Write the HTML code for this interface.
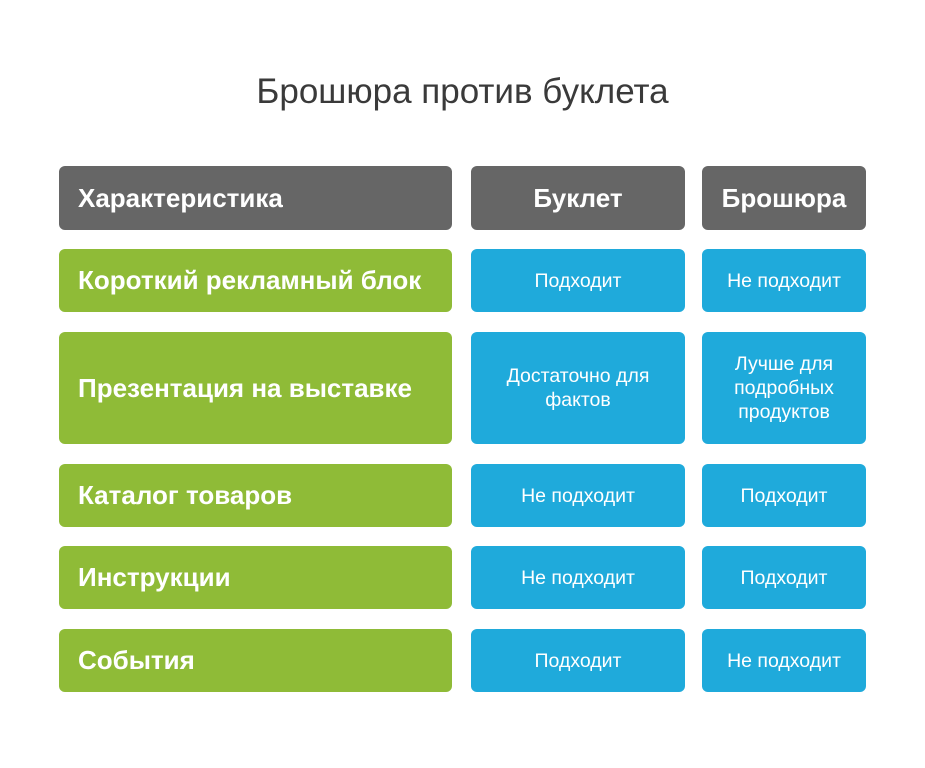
<!DOCTYPE html>
<html><head><meta charset="utf-8"><style>
body{margin:0;width:925px;height:768px;background:#fff;position:relative;overflow:hidden;font-family:"Liberation Sans","DejaVu Sans",sans-serif}
.t{position:absolute;left:0;width:925px;top:72px;text-align:center;font-size:35px;color:#3a3a3a}
.b{position:absolute;border-radius:6px;display:flex;align-items:center;color:#fff;box-sizing:border-box}
.g{background:#666}.gr{background:#8fbb37}.bl{background:#1faadb}
.c1{left:59px;width:393px;padding-left:19px;font-weight:bold;font-size:26px}
.c2{left:471px;width:214px;justify-content:center;text-align:center;font-size:19.5px;line-height:24px}
.c3{left:702px;width:164px;justify-content:center;text-align:center;font-size:19.5px;line-height:24px}
.h{font-weight:bold;font-size:26px}
</style></head><body>
<div class="t">Брошюра против буклета</div>
<div class="b g c1" style="top:166px;height:64px">Характеристика</div>
<div class="b g c2 h" style="top:166px;height:64px">Буклет</div>
<div class="b g c3 h" style="top:166px;height:64px">Брошюра</div>

<div class="b gr c1" style="top:249px;height:63px">Короткий рекламный блок</div>
<div class="b bl c2" style="top:249px;height:63px">Подходит</div>
<div class="b bl c3" style="top:249px;height:63px">Не подходит</div>

<div class="b gr c1" style="top:332px;height:112px">Презентация на выставке</div>
<div class="b bl c2" style="top:332px;height:112px">Достаточно для<br>фактов</div>
<div class="b bl c3" style="top:332px;height:112px">Лучше для<br>подробных<br>продуктов</div>

<div class="b gr c1" style="top:464px;height:63px">Каталог товаров</div>
<div class="b bl c2" style="top:464px;height:63px">Не подходит</div>
<div class="b bl c3" style="top:464px;height:63px">Подходит</div>

<div class="b gr c1" style="top:546px;height:63px">Инструкции</div>
<div class="b bl c2" style="top:546px;height:63px">Не подходит</div>
<div class="b bl c3" style="top:546px;height:63px">Подходит</div>

<div class="b gr c1" style="top:629px;height:63px">События</div>
<div class="b bl c2" style="top:629px;height:63px">Подходит</div>
<div class="b bl c3" style="top:629px;height:63px">Не подходит</div>
</body></html>
